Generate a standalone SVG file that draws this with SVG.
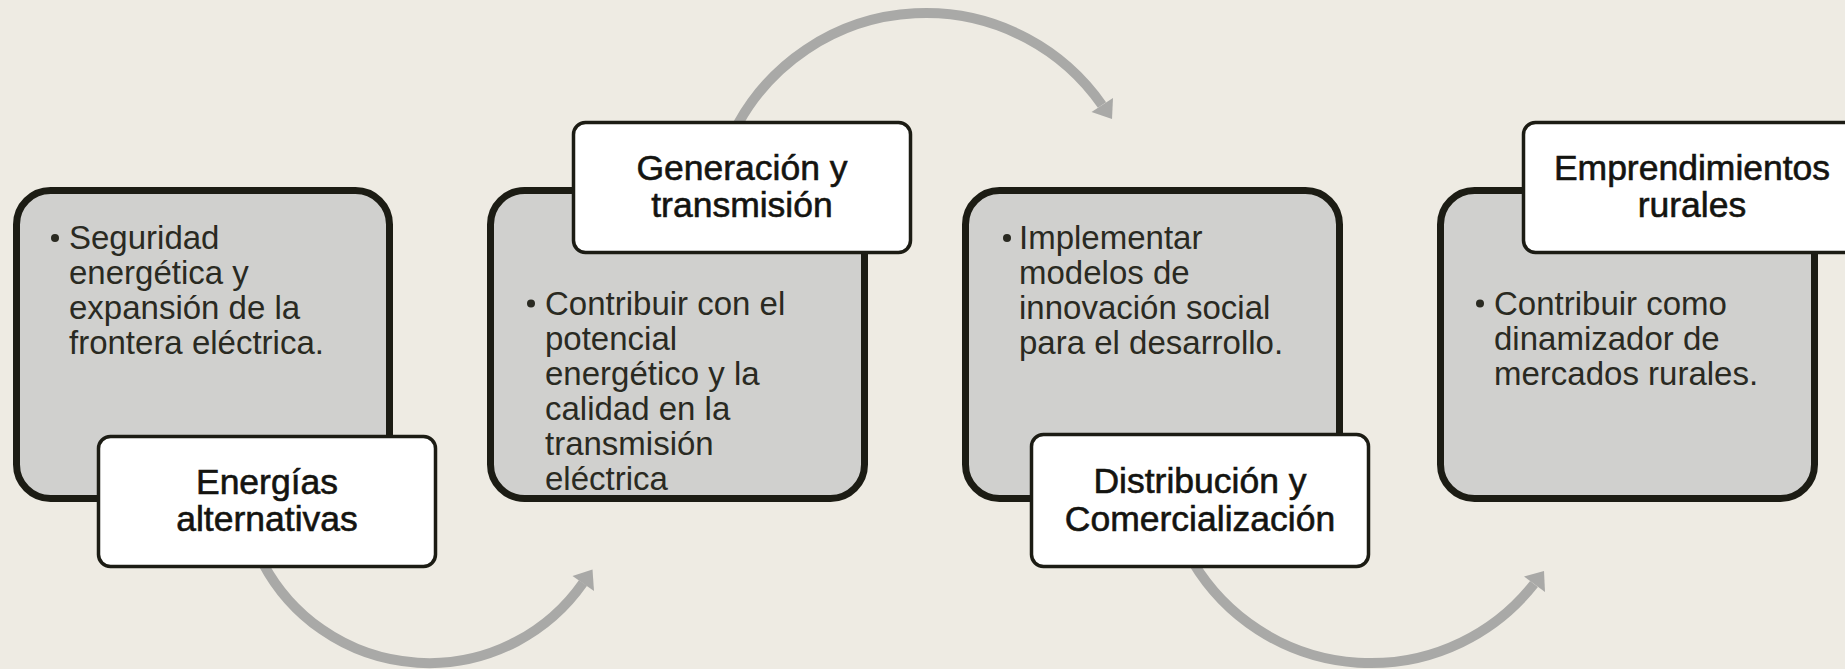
<svg xmlns="http://www.w3.org/2000/svg" width="1845" height="669" viewBox="0 0 1845 669">
<style>
.bg{fill:#EEEBE3}
.card{fill:#D0D0CE;stroke:#1C1C14;stroke-width:7}
.tag{fill:#FFFFFF;stroke:#1C1C14;stroke-width:3.5}
.arc{fill:none;stroke:#A9A9A7;stroke-width:10}
.head{fill:#A9A9A7}
.body{font-family:"Liberation Sans",Arial,sans-serif;font-size:33px;fill:#2A2A22}
.title{font-family:"Liberation Sans",Arial,sans-serif;font-size:35.5px;fill:#141410;stroke:#141410;stroke-width:0.6;text-anchor:middle}
.dot{fill:#2A2A22}
</style>
<rect class="bg" x="0" y="0" width="1845" height="669"/>
<g id="connectors">
  <path class="arc" d="M 263 563.3 A 188 188 0 0 0 583 583"/>
  <polygon class="head" points="592.5,569.5 594,591 572.5,576"/>
  <path class="arc" d="M 738.2 123.5 A 214.7 214.7 0 0 1 1102 105"/>
  <polygon class="head" points="1112,119 1113,98 1091.5,112"/>
  <path class="arc" d="M 1193.1 562.4 A 207.5 207.5 0 0 0 1534 584"/>
  <polygon class="head" points="1544,571 1545,592 1524,576.5"/>
</g>
<g id="node1">
  <rect class="card" x="16.5" y="190.5" width="373" height="308" rx="34"/>
  <circle class="dot" cx="55" cy="238" r="4"/>
  <text class="body" x="69" y="249">Seguridad</text>
  <text class="body" x="69" y="284">energética y</text>
  <text class="body" x="69" y="319">expansión de la</text>
  <text class="body" x="69" y="354">frontera eléctrica.</text>
  <rect class="tag" x="98.5" y="436.5" width="337" height="130" rx="12"/>
  <text class="title" x="267" y="494">Energías</text>
  <text class="title" x="267" y="531">alternativas</text>
</g>
<g id="node2">
  <rect class="card" x="490.5" y="190.5" width="374" height="308" rx="34"/>
  <circle class="dot" cx="531" cy="303.5" r="4"/>
  <text class="body" x="545" y="315">Contribuir con el</text>
  <text class="body" x="545" y="350">potencial</text>
  <text class="body" x="545" y="385">energético y la</text>
  <text class="body" x="545" y="420">calidad en la</text>
  <text class="body" x="545" y="455">transmisión</text>
  <text class="body" x="545" y="490">eléctrica</text>
  <rect class="tag" x="573.5" y="122.5" width="337" height="130" rx="12"/>
  <text class="title" x="742" y="180">Generación y</text>
  <text class="title" x="742" y="217">transmisión</text>
</g>
<g id="node3">
  <rect class="card" x="965.5" y="190.5" width="374" height="308" rx="34"/>
  <circle class="dot" cx="1007" cy="238" r="4"/>
  <text class="body" x="1019" y="249">Implementar</text>
  <text class="body" x="1019" y="284">modelos de</text>
  <text class="body" x="1019" y="319">innovación social</text>
  <text class="body" x="1019" y="354">para el desarrollo.</text>
  <rect class="tag" x="1031.5" y="434.5" width="337" height="132" rx="12"/>
  <text class="title" x="1200" y="493">Distribución y</text>
  <text class="title" x="1200" y="531">Comercialización</text>
</g>
<g id="node4">
  <rect class="card" x="1440.5" y="190.5" width="374" height="308" rx="34"/>
  <circle class="dot" cx="1480" cy="303.5" r="4"/>
  <text class="body" x="1494" y="315">Contribuir como</text>
  <text class="body" x="1494" y="350">dinamizador de</text>
  <text class="body" x="1494" y="385">mercados rurales.</text>
  <rect class="tag" x="1523.5" y="122.5" width="337" height="130" rx="12"/>
  <text class="title" x="1692" y="180">Emprendimientos</text>
  <text class="title" x="1692" y="217">rurales</text>
</g>
</svg>
